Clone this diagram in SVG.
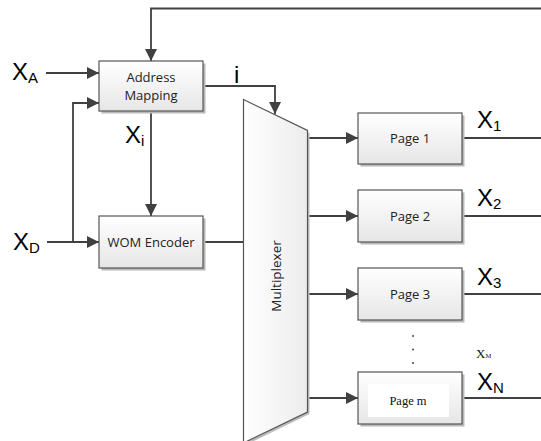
<svg xmlns="http://www.w3.org/2000/svg" width="541" height="441" viewBox="0 0 541 441">
  <defs>
    <linearGradient id="boxFill" x1="0" y1="0" x2="0" y2="1">
      <stop offset="0" stop-color="#ffffff"/>
      <stop offset="1" stop-color="#e6e6e6"/>
    </linearGradient>
    <linearGradient id="muxFill" x1="0" y1="0" x2="1" y2="0">
      <stop offset="0" stop-color="#ffffff"/>
      <stop offset="1" stop-color="#ececec"/>
    </linearGradient>
    <marker id="arrowL" viewBox="0 0 10 10" refX="10" refY="5" markerWidth="12" markerHeight="12" markerUnits="userSpaceOnUse" orient="auto">
      <path d="M0,0 L10,5 L0,10 Z" fill="#404040"/>
    </marker>
  </defs>
  <style>
    .box { fill: url(#boxFill); stroke: #555555; stroke-width: 1.2; }
    .shadow { fill: #b8b8b8; }
    .wire { fill: none; stroke: #404040; stroke-width: 1.8; }
    .lbl { font-family: "Open Sans", "Liberation Sans", sans-serif; font-size: 13px; fill: #222222; text-anchor: middle; }
    .sig { font-family: "Liberation Sans", "Open Sans", sans-serif; font-size: 24px; fill: #000000; }
    .sub { font-size: 15px; }
    .serif { font-family: "Liberation Serif", "Times New Roman", serif; fill: #111111; }
  </style>

  <!-- connectors -->
  <g id="connectors">
    <!-- feedback from the right edge into Address Mapping -->
    <path class="wire" d="M541,8.5 H151 V61" marker-end="url(#arrowL)"/>
    <!-- X_A input -->
    <path class="wire" d="M46,73 H99" marker-end="url(#arrowL)"/>
    <!-- X_D input to WOM Encoder, branch to Address Mapping -->
    <path class="wire" d="M47,242 H99" marker-end="url(#arrowL)"/>
    <path class="wire" d="M73,242 V103 H99" marker-end="url(#arrowL)"/>
    <!-- index i to multiplexer -->
    <path class="wire" d="M203,86 H275 V114" marker-end="url(#arrowL)"/>
    <!-- X_i to WOM Encoder -->
    <path class="wire" d="M151,111 V216" marker-end="url(#arrowL)"/>
    <!-- WOM Encoder to multiplexer -->
    <path class="wire" d="M203,242 H244"/>
    <!-- multiplexer outputs to pages -->
    <path class="wire" d="M309,138 H358" marker-end="url(#arrowL)"/>
    <path class="wire" d="M309,216 H358" marker-end="url(#arrowL)"/>
    <path class="wire" d="M309,294 H358" marker-end="url(#arrowL)"/>
    <path class="wire" d="M309,398 H358" marker-end="url(#arrowL)"/>
    <!-- page outputs -->
    <path class="wire" d="M462,138 H541"/>
    <path class="wire" d="M462,216 H541"/>
    <path class="wire" d="M462,294 H541"/>
    <path class="wire" d="M462,398 H541"/>
  </g>

  <!-- input / signal labels -->
  <text class="sig" x="12" y="80">X<tspan class="sub" dy="3">A</tspan></text>
  <text class="sig" x="13" y="250">X<tspan class="sub" dy="3">D</tspan></text>
  <text class="sig" x="234" y="83">i</text>
  <text class="sig" x="125" y="143">X<tspan class="sub" dy="3">i</tspan></text>

  <g id="address-mapping">
    <rect class="shadow" x="101.5" y="63.5" width="104" height="50"/>
    <rect class="box" x="99" y="61" width="104" height="50"/>
    <text class="lbl" x="151" y="82">Address</text>
    <text class="lbl" x="151" y="100">Mapping</text>
  </g>

  <g id="wom-encoder">
    <rect class="shadow" x="101.5" y="218.5" width="104" height="52"/>
    <rect class="box" x="99" y="216" width="104" height="52"/>
    <text class="lbl" x="151" y="247">WOM Encoder</text>
  </g>

  <g id="multiplexer">
    <polygon points="245.5,102 309.5,133 309.5,414 245.5,445" fill="#bdbdbd"/>
    <polygon points="243.5,99.5 307.5,130.5 307.5,412 243.5,443" fill="url(#muxFill)" stroke="#555555" stroke-width="1.2"/>
    <text class="lbl" x="0" y="0" transform="translate(281,276) rotate(-90)" style="font-size:13.5px">Multiplexer</text>
  </g>

  <g id="page-1">
    <rect class="shadow" x="360.5" y="115.5" width="104" height="51"/>
    <rect class="box" x="358" y="113" width="104" height="51"/>
    <text class="lbl" x="410" y="143">Page 1</text>
  </g>
  <text class="sig" x="477" y="128">X<tspan class="sub" dy="3">1</tspan></text>

  <g id="page-2">
    <rect class="shadow" x="360.5" y="192.5" width="104" height="52"/>
    <rect class="box" x="358" y="190" width="104" height="52"/>
    <text class="lbl" x="410" y="221">Page 2</text>
  </g>
  <text class="sig" x="477" y="206">X<tspan class="sub" dy="3">2</tspan></text>

  <g id="page-3">
    <rect class="shadow" x="360.5" y="270.5" width="104" height="52"/>
    <rect class="box" x="358" y="268" width="104" height="52"/>
    <text class="lbl" x="410" y="299">Page 3</text>
  </g>
  <text class="sig" x="477" y="285">X<tspan class="sub" dy="3">3</tspan></text>

  <!-- ellipsis between page 3 and page m -->
  <g fill="#333333">
    <circle cx="413" cy="336" r="0.9"/>
    <circle cx="413" cy="349.5" r="0.9"/>
    <circle cx="413" cy="363" r="0.9"/>
  </g>
  <text class="serif" x="476" y="358" font-size="13">X<tspan font-size="6.5">M</tspan></text>

  <g id="page-m">
    <rect class="shadow" x="360.5" y="374.5" width="104" height="52"/>
    <rect class="box" x="358" y="372" width="104" height="52"/>
    <rect x="368" y="384" width="81" height="33" fill="#ffffff"/>
    <text class="serif" x="408" y="405" font-size="12.5" text-anchor="middle">Page m</text>
  </g>
  <text class="sig" x="477" y="390">X<tspan class="sub" dy="3">N</tspan></text>
</svg>
